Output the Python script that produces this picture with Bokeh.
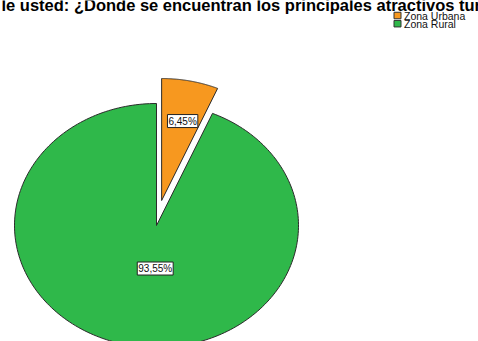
import numpy as np
from bokeh.plotting import figure
from bokeh.models import Range1d, ColumnDataSource
from bokeh.core.properties import value
from bokeh.embed import file_html
from bokeh.resources import INLINE

# ---- data ----
categories = ["Zona Urbana", "Zona Rural"]
percent = [6.45, 93.55]
pct_labels = ["6,45%", "93,55%"]
colors = ["#F7981F", "#2FB84A"]
title_text = "le usted: ¿Donde se encuentran los principales atractivos tur"

# ---- layout ----
W, H = 478, 341
cx, cy, rx, ry = 156, 225, 142, 122
explode = [25.5, 0.0]
label_r = [0.665, 0.36]
label_dx = [2, 9]

p = figure(width=W, height=H, output_backend="svg", toolbar_location=None,
           x_range=Range1d(0, W), y_range=Range1d(H, 0), min_border=0,
           x_axis_location=None, y_axis_location=None)
p.grid.visible = False
p.outline_line_color = None
p.background_fill_color = "white"
p.border_fill_color = "white"
p.styles = {"position": "absolute", "left": "0px", "top": "0px"}

xs, ys, lx, ly = [], [], [], []
start = 0.0
for pct, ex, lr, ldx in zip(percent, explode, label_r, label_dx):
    a0 = start / 100 * 2 * np.pi
    a1 = (start + pct) / 100 * 2 * np.pi
    t = np.linspace(a0, a1, 240)
    mid = (a0 + a1) / 2
    dx, dy = ex * np.sin(mid), -ex * np.cos(mid)
    xs.append(list(np.concatenate([[cx], cx + rx * np.sin(t), [cx]]) + dx))
    ys.append(list(np.concatenate([[cy], cy - ry * np.cos(t), [cy]]) + dy))
    lx.append(cx + rx * lr * np.sin(mid) + dx + ldx)
    ly.append(cy - ry * lr * np.cos(mid) + dy)
    start += pct

src = ColumnDataSource(dict(xs=xs, ys=ys, color=colors, lx=lx, ly=ly, lab=pct_labels))
p.patches("xs", "ys", source=src, fill_color="color", line_color="#2b2b2b", line_width=1)
p.text("lx", "ly", text="lab", source=src, text_font=value("Liberation Sans"),
       text_font_size="10px", text_color="#111111", text_align="center",
       text_baseline="middle", background_fill_color="white",
       border_line_color="#222222", border_line_width=1, padding=1)

# legend
leg_y = [15, 23.2]
lsrc = ColumnDataSource(dict(x=[397, 397], y=leg_y, color=colors, name=categories))
p.rect("x", "y", width=7, height=6.5, source=lsrc, fill_color="color", line_color="#333333")
p.text([403.5, 403.5], leg_y, text=categories, text_font=value("Liberation Sans"),
       text_font_size="10.5px", text_color="#111111", text_baseline="middle")

# title (cropped at top, as in reference)
p.text([1], [4], text=[title_text], text_font=value("Liberation Sans"),
       text_font_size="16.5px", text_font_style="bold", text_color="black",
       text_align="left", text_baseline="alphabetic")

open("out.html", "w").write(file_html(p, INLINE))
